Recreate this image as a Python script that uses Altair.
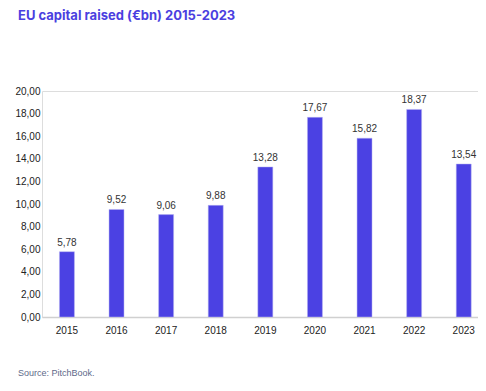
import altair as alt
import pandas as pd

years = ["2015", "2016", "2017", "2018", "2019", "2020", "2021", "2022", "2023"]
values = [5.78, 9.52, 9.06, 9.88, 13.28, 17.67, 15.82, 18.37, 13.54]
y_ticks = [0, 2, 4, 6, 8, 10, 12, 14, 16, 18, 20]
title_text = "EU capital raised (€bn) 2015-2023"
source_text = "Source: PitchBook."

df = pd.DataFrame({"year": years, "value": values})
df["label"] = [f"{v:.2f}".replace(".", ",") for v in values]

BAR = "#4B41E3"
FONT = "Liberation Sans"

x = alt.X("year:N", sort=years, title=None,
          scale=alt.Scale(paddingInner=0.698, paddingOuter=0.244, align=0.72),
          axis=alt.Axis(labelAngle=0, ticks=False, domainColor="#d0d0d0", domainWidth=1.5,
                        labelFont=FONT, labelFontSize=10, labelColor="#222222", labelPadding=8))
y = alt.Y("value:Q", title=None,
          scale=alt.Scale(domain=[0, 20], nice=False),
          axis=alt.Axis(values=y_ticks, grid=False, domain=False, ticks=False,
                        labelExpr="replace(format(datum.value, '.2f'), '.', ',')",
                        labelFont=FONT, labelFontSize=10, labelColor="#222222", labelPadding=2))

bars = alt.Chart(df).mark_bar(color=BAR, stroke="#b8b4f0", strokeWidth=0.5).encode(x=x, y=y)
labels = alt.Chart(df).mark_text(baseline="bottom", dy=-4, font=FONT, fontSize=10, color="#333333").encode(
    x=x, y=y, text="label:N")

meta = pd.DataFrame({"t": [title_text], "s": [source_text]})
title = alt.Chart(meta).mark_text(align="left", baseline="alphabetic", font="Inter", fontWeight="bold",
                                  fontSize=13, color="#4B3FE0").encode(
    x=alt.value(-24), y=alt.value(-71), text="t:N")
source = alt.Chart(meta).mark_text(align="left", baseline="alphabetic", font=FONT, fontSize=9,
                                   color="#5E6A8A").encode(
    x=alt.value(-24), y=alt.value(285), text="s:N")

chart = alt.layer(bars, labels, title, source).properties(
    width=436, height=226,
    autosize=alt.AutoSizeParams(type="none"),
    padding={"left": 34, "top": 83, "right": 0, "bottom": 64},
).configure_view(stroke=None).configure(background="white")

chart.save("out.html", embed_options={"renderer": "svg", "actions": False})
